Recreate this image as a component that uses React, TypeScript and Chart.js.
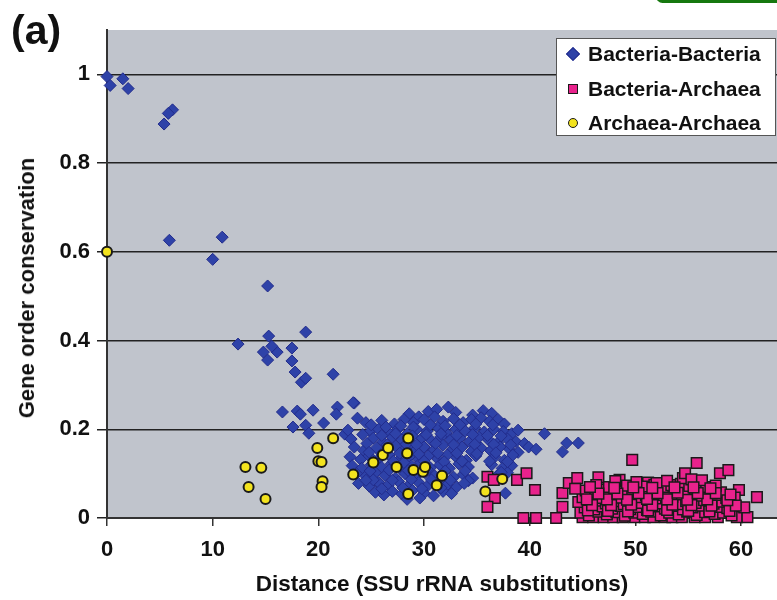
import React, { useEffect, useRef } from 'react';
import { Chart, registerables } from 'chart.js';

Chart.register(...registerables);

const seriesNames = ['Bacteria-Bacteria', 'Bacteria-Archaea', 'Archaea-Archaea'];
const xTicks = [0, 10, 20, 30, 40, 50, 60];
const yTicks = [0, 0.2, 0.4, 0.6, 0.8, 1];
const yTickLabels = ['0', '0.2', '0.4', '0.6', '0.8', '1'];
const xTitle = 'Distance (SSU rRNA substitutions)';
const yTitle = 'Gene order conservation';
const panelLabel = '(a)';

const bactBact: [number, number][] = [
  [0, 0.995], [0.3, 0.975], [1.5, 0.99], [2.0, 0.968], [6.2, 0.92], [5.8, 0.912], [5.4, 0.888],
  [5.9, 0.626], [10.9, 0.633], [10.0, 0.583], [15.2, 0.523], [15.3, 0.41], [12.4, 0.392], [18.8, 0.419],
  [14.8, 0.374], [16.1, 0.374], [15.2, 0.356], [15.6, 0.387], [17.5, 0.383], [17.5, 0.354], [17.8, 0.329],
  [18.4, 0.306], [18.8, 0.315], [21.4, 0.324], [16.6, 0.239], [18.0, 0.241], [18.3, 0.234], [19.5, 0.243],
  [21.8, 0.25], [21.7, 0.234], [23.4, 0.259], [23.7, 0.225], [17.6, 0.205], [18.8, 0.209], [19.1, 0.191],
  [20.5, 0.214], [22.5, 0.189],
  [23.3, 0.26], [28.6, 0.235], [30.4, 0.24], [31.2, 0.245], [32.3, 0.25], [33.0, 0.238], [34.6, 0.232],
  [35.6, 0.242], [36.4, 0.236], [29.5, 0.228],
  [24.5, 0.215], [26.0, 0.22], [27.2, 0.212], [28.1, 0.222], [29.0, 0.215], [30.0, 0.222], [31.0, 0.228],
  [31.8, 0.218], [32.8, 0.224], [33.7, 0.215], [34.5, 0.222], [35.4, 0.226], [36.2, 0.218], [37.0, 0.222], [37.6, 0.212],
  [22.8, 0.198], [24.9, 0.195], [25.7, 0.2], [26.6, 0.194], [27.5, 0.2], [28.4, 0.19], [29.3, 0.2], [30.3, 0.196],
  [31.3, 0.204], [32.1, 0.192], [33.0, 0.2], [33.9, 0.196], [34.8, 0.203], [35.7, 0.194], [36.6, 0.2], [37.5, 0.195],
  [38.3, 0.19], [38.9, 0.198],
  [23.1, 0.178], [25.2, 0.18], [26.1, 0.172], [27.0, 0.182], [27.9, 0.176], [28.8, 0.17], [29.8, 0.18], [30.7, 0.174],
  [31.6, 0.183], [32.5, 0.176], [33.4, 0.18], [34.3, 0.172], [35.2, 0.182], [36.1, 0.176], [37.0, 0.17], [37.9, 0.178],
  [38.7, 0.172], [39.5, 0.168],
  [23.4, 0.16], [24.3, 0.152], [25.5, 0.158], [26.4, 0.15], [27.3, 0.162], [28.2, 0.155], [29.1, 0.15], [30.0, 0.16],
  [30.9, 0.152], [31.8, 0.164], [32.7, 0.155], [33.6, 0.16], [34.5, 0.15], [35.4, 0.158], [36.3, 0.152], [37.2, 0.16],
  [38.1, 0.155], [38.9, 0.148],
  [23.0, 0.138], [24.0, 0.132], [24.8, 0.14], [25.8, 0.135], [26.7, 0.142], [27.6, 0.13], [28.6, 0.138], [29.5, 0.132],
  [30.4, 0.14], [31.3, 0.133], [32.2, 0.142], [33.1, 0.136], [34.0, 0.13], [34.9, 0.14], [36.7, 0.138], [37.6, 0.13],
  [23.2, 0.118], [24.1, 0.112], [25.0, 0.12], [26.0, 0.114], [26.9, 0.122], [27.8, 0.11], [28.8, 0.118], [29.7, 0.125],
  [30.6, 0.113], [31.5, 0.12], [32.4, 0.112], [33.3, 0.122], [34.2, 0.115], [36.4, 0.12], [37.4, 0.112], [38.3, 0.118],
  [23.6, 0.1], [24.5, 0.094], [25.4, 0.102], [26.3, 0.096], [27.3, 0.09], [28.2, 0.1], [29.2, 0.093], [30.1, 0.102],
  [31.0, 0.095], [31.9, 0.103], [32.8, 0.092], [33.7, 0.098], [34.6, 0.09], [36.9, 0.095], [37.9, 0.102],
  [23.8, 0.078], [24.8, 0.072], [25.7, 0.08], [26.6, 0.074], [27.6, 0.082], [28.5, 0.072], [29.5, 0.08], [30.4, 0.074],
  [31.3, 0.082], [32.2, 0.075], [33.1, 0.07],
  [25.4, 0.058], [26.2, 0.052], [27.0, 0.06], [27.9, 0.054], [28.9, 0.062], [30.0, 0.056], [30.9, 0.05], [31.8, 0.06],
  [32.6, 0.055], [37.7, 0.056], [28.4, 0.042], [29.6, 0.045],
  [39.9, 0.16], [40.6, 0.155], [41.4, 0.19], [43.5, 0.169], [44.6, 0.169], [43.1, 0.149],
  [25.0, 0.21], [26.4, 0.205], [27.8, 0.208], [29.0, 0.205], [30.6, 0.21], [32.0, 0.208], [33.4, 0.21], [34.9, 0.212], [36.5, 0.21],
  [24.2, 0.188], [26.0, 0.186], [27.3, 0.19], [28.9, 0.185], [30.2, 0.188], [31.6, 0.19], [33.1, 0.186], [34.6, 0.188],
  [36.0, 0.186], [37.3, 0.185],
  [24.6, 0.168], [26.5, 0.165], [28.3, 0.166], [29.3, 0.165], [31.1, 0.168], [32.8, 0.165], [34.8, 0.166], [36.6, 0.166], [38.2, 0.165],
  [24.8, 0.148], [26.0, 0.145], [27.7, 0.146], [29.5, 0.144], [31.3, 0.146], [33.1, 0.146], [35.0, 0.145], [36.8, 0.147], [38.4, 0.142],
  [25.3, 0.127], [27.1, 0.128], [28.1, 0.125], [30.0, 0.128], [31.9, 0.127], [33.6, 0.128], [36.2, 0.128], [37.9, 0.127],
  [24.9, 0.106], [26.7, 0.108], [28.5, 0.107], [30.3, 0.11], [32.0, 0.106], [33.9, 0.106], [37.3, 0.103],
  [25.2, 0.086], [27.0, 0.085], [28.8, 0.087], [30.7, 0.086], [32.5, 0.085], [34.2, 0.084],
  [26.0, 0.066], [28.0, 0.068], [29.8, 0.066], [31.6, 0.068], [24.5, 0.085], [33.8, 0.078],
];

const bactArch: [number, number][] = [
  [36.0, 0.093], [36.6, 0.086], [36.7, 0.045], [36.0, 0.025], [38.8, 0.086], [39.7, 0.101], [40.5, 0.063],
  [39.4, 0.0], [40.6, 0.0], [42.5, 0.0], [43.1, 0.056], [43.7, 0.079], [44.5, 0.09], [43.1, 0.025], [46.5, 0.092],
  [48.5, 0.086], [49.7, 0.131], [55.8, 0.124], [58.0, 0.101], [58.8, 0.108], [59.8, 0.063], [61.5, 0.047], [51.2, 0.08],
  [45.0, 0.002], [46.0, 0.002], [47.0, 0.002], [47.9, 0.002], [48.8, 0.002], [49.9, 0.002], [50.9, 0.002], [51.7, 0.002],
  [52.8, 0.002], [53.5, 0.002], [54.4, 0.002], [55.6, 0.002], [56.6, 0.002], [57.8, 0.002], [59.6, 0.002], [60.6, 0.002],
  [44.8, 0.012], [45.6, 0.006], [46.5, 0.014], [47.3, 0.008], [48.2, 0.013], [49.0, 0.005], [49.9, 0.012], [50.7, 0.009],
  [51.5, 0.014], [52.4, 0.006], [53.2, 0.012], [54.1, 0.008], [54.9, 0.014], [55.8, 0.007], [56.6, 0.013], [57.5, 0.009],
  [58.3, 0.012], [59.1, 0.006],
  [45.2, 0.024], [46.1, 0.019], [46.9, 0.026], [47.8, 0.021], [48.6, 0.027], [49.5, 0.02], [50.3, 0.025], [51.1, 0.018],
  [52.0, 0.026], [52.8, 0.021], [53.7, 0.027], [54.5, 0.019], [55.4, 0.024], [56.2, 0.028], [57.0, 0.02], [57.9, 0.025],
  [58.7, 0.022], [60.3, 0.024],
  [44.6, 0.036], [45.5, 0.032], [46.4, 0.039], [47.2, 0.033], [48.0, 0.038], [48.9, 0.031], [49.8, 0.037], [50.6, 0.034],
  [51.4, 0.04], [52.3, 0.033], [53.1, 0.037], [54.0, 0.031], [54.8, 0.038], [55.7, 0.034], [56.5, 0.04], [57.4, 0.032],
  [58.2, 0.037], [59.2, 0.035],
  [45.0, 0.047], [45.9, 0.052], [46.8, 0.045], [47.6, 0.05], [48.5, 0.046], [49.3, 0.053], [50.2, 0.047], [51.0, 0.051],
  [51.9, 0.044], [52.7, 0.052], [53.5, 0.048], [54.4, 0.053], [55.2, 0.046], [56.1, 0.05], [56.9, 0.047], [57.7, 0.052],
  [58.6, 0.045], [59.4, 0.046],
  [45.3, 0.062], [46.2, 0.058], [47.1, 0.064], [48.8, 0.06], [49.7, 0.065], [50.5, 0.059], [51.3, 0.063], [52.2, 0.066],
  [53.0, 0.061], [53.9, 0.065], [54.7, 0.06], [55.6, 0.066], [56.4, 0.061], [57.2, 0.064], [58.1, 0.058],
  [46.3, 0.074], [47.5, 0.07], [49.2, 0.073], [50.9, 0.071], [51.8, 0.075], [52.6, 0.07], [53.4, 0.074], [54.3, 0.077],
  [55.1, 0.072], [56.0, 0.076], [56.7, 0.07], [57.6, 0.073],
  [48.1, 0.083], [50.1, 0.081], [52.0, 0.079], [53.0, 0.084], [54.5, 0.09], [54.7, 0.101], [55.3, 0.087], [56.3, 0.085],
  [45.5, 0.017], [47.4, 0.016], [49.3, 0.015], [51.2, 0.017], [53.0, 0.018], [55.0, 0.016], [57.0, 0.015], [58.9, 0.016],
  [45.9, 0.029], [47.7, 0.029], [49.6, 0.03], [51.6, 0.029], [53.5, 0.03], [55.3, 0.029], [57.2, 0.028], [59.5, 0.028],
  [45.4, 0.042], [47.3, 0.042], [49.2, 0.041], [51.1, 0.043], [53.0, 0.042], [54.9, 0.041], [56.8, 0.042], [58.7, 0.04],
  [46.5, 0.055], [48.3, 0.055], [50.3, 0.056], [52.1, 0.056], [54.0, 0.057], [55.9, 0.056], [57.6, 0.056], [59.0, 0.053],
  [48.0, 0.068], [49.8, 0.069], [51.6, 0.068], [53.7, 0.069], [55.5, 0.069], [57.1, 0.067], [44.3, 0.066], [45.7, 0.07],
];

const archArch: [number, number][] = [
  [0, 0.6], [13.1, 0.115], [14.6, 0.113], [13.4, 0.07], [15.0, 0.043], [19.9, 0.158], [20.0, 0.128], [20.3, 0.126],
  [20.4, 0.083], [20.3, 0.07], [21.4, 0.18], [23.3, 0.098], [25.2, 0.125], [26.1, 0.142], [26.6, 0.158], [28.5, 0.18],
  [28.4, 0.146], [27.4, 0.115], [29.0, 0.108], [29.9, 0.104], [30.1, 0.115], [28.5, 0.054], [31.2, 0.074],
  [31.7, 0.095], [35.8, 0.06], [37.4, 0.088],
];

const FONT = '"Liberation Sans", Arial, sans-serif';

const toPts = (arr: [number, number][]) => arr.map(([x, y]) => ({ x, y }));

const plotBg = {
  id: 'plotBg',
  beforeDraw(chart: any) {
    const { ctx, chartArea } = chart;
    const { left, top, right, bottom } = chartArea;
    ctx.save();
    ctx.fillStyle = '#C0C4CC';
    ctx.fillRect(left, top, right - left, bottom - top);
    ctx.restore();
  },
};

export default function App() {
  const ref = useRef<HTMLCanvasElement | null>(null);

  useEffect(() => {
    if (!ref.current) return;
    const chart = new Chart(ref.current, {
      type: 'scatter',
      data: {
        datasets: [
          {
            label: seriesNames[0],
            data: toPts(bactBact),
            pointStyle: 'rectRot',
            pointRadius: 6,
            backgroundColor: '#2E42A8',
            borderColor: '#222C8C',
            borderWidth: 1,
            order: 3,
            clip: false,
          },
          {
            label: seriesNames[1],
            data: toPts(bactArch),
            pointStyle: 'rect',
            pointRadius: 7.5,
            backgroundColor: '#E8228C',
            borderColor: '#1a1a1a',
            borderWidth: 1.5,
            order: 2,
            clip: false,
          },
          {
            label: seriesNames[2],
            data: toPts(archArch),
            pointStyle: 'circle',
            pointRadius: 5,
            backgroundColor: '#F3E31E',
            borderColor: '#1a1a1a',
            borderWidth: 2,
            order: 1,
            clip: false,
          },
        ] as any,
      },
      options: {
        animation: false,
        responsive: false,
        maintainAspectRatio: false,
        layout: { autoPadding: false, padding: { left: 0, right: 0, top: 30, bottom: 0 } },
        plugins: {
          legend: { display: false },
          tooltip: { enabled: false },
          title: { display: false },
        },
        scales: {
          x: {
            type: 'linear',
            min: 0,
            max: 63.4,
            afterBuildTicks: (s: any) => {
              s.ticks = xTicks.map((v) => ({ value: v }));
            },
            afterFit: (s: any) => {
              s.height = 82;
              s.paddingLeft = 0;
              s.paddingRight = 0;
            },
            grid: {
              drawOnChartArea: false,
              drawTicks: true,
              tickLength: 8,
              color: '#333',
              lineWidth: 1.5,
            },
            border: { display: true, color: '#333', width: 2 },
            ticks: {
              autoSkip: false,
              maxRotation: 0,
              padding: 11,
              color: '#111',
              font: { family: FONT, size: 22, weight: 'bold' },
            },
            title: {
              display: true,
              text: xTitle,
              color: '#111',
              font: { family: FONT, size: 22.5, weight: 'bold' },
              padding: { top: 0, bottom: 2 },
            },
          },
          y: {
            type: 'linear',
            min: 0,
            max: 1.1,
            afterBuildTicks: (s: any) => {
              s.ticks = yTicks.map((v) => ({ value: v }));
            },
            afterFit: (s: any) => {
              s.width = 107;
              s.paddingTop = 0;
              s.paddingBottom = 0;
            },
            grid: {
              drawOnChartArea: true,
              drawTicks: true,
              tickLength: 10,
              color: '#222',
              lineWidth: 1.5,
            },
            border: { display: true, color: '#333', width: 2 },
            ticks: {
              autoSkip: false,
              padding: 7,
              color: '#111',
              font: { family: FONT, size: 22, weight: 'bold' },
              callback: (_v: any, i: number) => yTickLabels[i],
            },
            title: { display: false },
          },
        },
      } as any,
      plugins: [plotBg],
    });
    return () => chart.destroy();
  }, []);

  const legendMarkers = [
    <div key="d" style={{ width: 8, height: 8, background: '#2E42A8', border: '1px solid #222C8C', transform: 'rotate(45deg)' }} />,
    <div key="s" style={{ width: 8, height: 8, background: '#E8228C', border: '1.5px solid #1a1a1a' }} />,
    <div key="c" style={{ width: 8, height: 8, background: '#F3E31E', border: '1.5px solid #1a1a1a', borderRadius: '50%' }} />,
  ];

  return (
    <div style={{ position: 'absolute', left: 0, top: 0, width: 777, height: 600, overflow: 'hidden', background: '#fff' }}>
      <canvas ref={ref} width={777} height={600} style={{ position: 'absolute', left: 0, top: 0, width: 777, height: 600 }} />
      <div
        style={{
          position: 'absolute', left: 656, top: -10, width: 140, height: 13,
          background: '#16780F', borderRadius: 7,
        }}
      />
      <div
        style={{
          position: 'absolute', left: 11, top: 10, fontFamily: FONT, fontWeight: 'bold',
          fontSize: 41, lineHeight: '41px', color: '#111',
        }}
      >
        {panelLabel}
      </div>
      <div
        style={{
          position: 'absolute', left: 27, top: 288, transform: 'translate(-50%, -50%) rotate(-90deg)',
          fontFamily: FONT, fontWeight: 'bold', fontSize: 22, lineHeight: '26px', color: '#111', whiteSpace: 'nowrap',
        }}
      >
        {yTitle}
      </div>
      <div
        style={{
          position: 'absolute', left: 556, top: 38, width: 218, height: 96,
          background: '#fff', border: '1px solid #555', fontFamily: FONT, fontWeight: 'bold',
          fontSize: 21, color: '#111',
        }}
      >
        {seriesNames.map((name, i) => (
          <div
            key={name}
            style={{
              position: 'absolute', left: 0, top: -2 + i * 34.5, height: 34, width: 218,
              display: 'flex', alignItems: 'center',
            }}
          >
            <div style={{ width: 31, display: 'flex', justifyContent: 'center', alignItems: 'center' }}>
              {legendMarkers[i]}
            </div>
            <span style={{ whiteSpace: 'nowrap' }}>{name}</span>
          </div>
        ))}
      </div>
    </div>
  );
}
